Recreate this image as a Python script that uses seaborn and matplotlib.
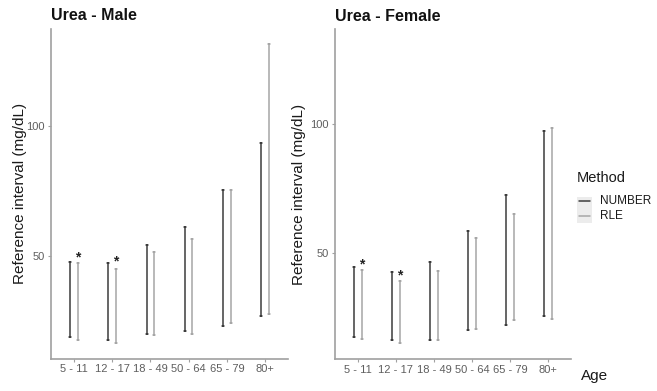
import numpy as np
import pandas as pd
import matplotlib
matplotlib.use("Agg")
import matplotlib.pyplot as plt
from matplotlib.lines import Line2D
from matplotlib.patches import Rectangle
import seaborn as sns

# Age groups and methods
age_groups = ["5 - 11", "12 - 17", "18 - 49", "50 - 64", "65 - 79", "80+"]
methods = ["NUMBER", "RLE"]

# Reference interval limits (mg/dL), male
male_number_low = [18.8, 17.8, 19.8, 21.0, 23.0, 26.8]
male_number_high = [47.5, 47.3, 54.2, 61.2, 75.5, 93.6]
male_rle_low = [17.8, 16.3, 19.6, 19.8, 24.2, 27.6]
male_rle_high = [47.1, 45.0, 51.5, 56.3, 75.2, 131.7]

# Reference interval limits (mg/dL), female
female_number_low = [17.4, 16.4, 16.4, 20.3, 22.2, 25.4]
female_number_high = [44.4, 42.6, 46.5, 58.4, 72.6, 97.5]
female_rle_low = [16.7, 15.1, 16.1, 20.5, 24.1, 24.4]
female_rle_high = [43.5, 39.1, 43.1, 55.9, 65.0, 98.4]

# Significance markers (age group, height)
male_star_groups = ["5 - 11", "12 - 17"]
male_star_y = [49.4, 47.9]
female_star_groups = ["5 - 11", "12 - 17"]
female_star_y = [45.7, 41.3]

y_ticks = [50, 100]


def long_frame(n_low, n_high, r_low, r_high):
    rows = []
    for i, age in enumerate(age_groups):
        for m, lo, hi in (("NUMBER", n_low[i], n_high[i]), ("RLE", r_low[i], r_high[i])):
            rows.append({"Age": age, "Method": m, "value": lo})
            rows.append({"Age": age, "Method": m, "value": hi})
    return pd.DataFrame(rows)


male_df = long_frame(male_number_low, male_number_high, male_rle_low, male_rle_high)
female_df = long_frame(female_number_low, female_number_high, female_rle_low, female_rle_high)

sns.set_theme(style="white")
plt.rcParams["font.family"] = ["Liberation Sans", "DejaVu Sans"]

palette = {"NUMBER": "#3c3c3c", "RLE": "#a6a6a6"}
axis_gray = "#a0a0a0"
tick_gray = "#5e5e5e"

fig = plt.figure(figsize=(6.57, 3.91), dpi=100)
W, H = 657, 391


def px_axes(left, top, right, bottom):
    return fig.add_axes([left / W, 1 - bottom / H, (right - left) / W, (bottom - top) / H])


ax_m = px_axes(51, 28.5, 288, 358.5)
ax_f = px_axes(335, 29, 571, 359)


def draw_panel(ax, df, title, ylim, star_groups, star_y, ylabel_x):
    sns.pointplot(
        data=df, x="Age", y="value", hue="Method", order=age_groups,
        hue_order=methods, palette=palette,
        estimator="mean", errorbar=lambda v: (v.min(), v.max()),
        dodge=0.2, markers="none", linestyles="none", capsize=0.05,
        err_kws={"linewidth": 1.1}, legend=False, ax=ax,
    )
    ax.set_xlim(-0.6, len(age_groups) - 0.4)
    ax.set_ylim(*ylim)
    ax.set_yticks(y_ticks)
    ax.set_yticklabels([str(t) for t in y_ticks])
    for g, yv in zip(star_groups, star_y):
        ax.text(age_groups.index(g) + 0.1, yv, "*", ha="center", va="center",
                fontsize=10, fontweight="bold", color="#222222")
    for side in ("top", "right"):
        ax.spines[side].set_visible(False)
    for side in ("left", "bottom"):
        ax.spines[side].set_color(axis_gray)
        ax.spines[side].set_linewidth(1.2)
    ax.tick_params(axis="both", colors=axis_gray, labelcolor=tick_gray,
                   labelsize=8, length=2.5, width=0.8, pad=2,
                   left=True, bottom=True)
    ax.tick_params(axis="x", pad=1.5)
    ax.set_xlabel("")
    ax.set_ylabel("Reference interval (mg/dL)", fontsize=11, color="#1a1a1a")
    ax.yaxis.set_label_coords(ylabel_x, 0.5)
    ax.set_title(title, loc="left", fontsize=11.5, fontweight="bold", color="#111111", pad=6, x=0.0)
    ax.grid(False)


draw_panel(ax_m, male_df, "Urea - Male", (10.5, 137.5), male_star_groups, male_star_y, -24 / 237)
draw_panel(ax_f, female_df, "Urea - Female", (8.9, 136.9), female_star_groups, female_star_y, -29 / 236)

# Legend, drawn in figure pixel space
fig.text(577 / W, 1 - 178 / H, "Method", fontsize=10.5, color="#1a1a1a", ha="left", va="center")
fig.patches.append(Rectangle((577 / W, 1 - 223 / H), 15 / W, 26 / H,
                             transform=fig.transFigure, facecolor="#ececec",
                             edgecolor="none", figure=fig))
for yy, m in ((201, "NUMBER"), (216, "RLE")):
    fig.lines.append(Line2D([579 / W, 590 / W], [1 - yy / H, 1 - yy / H],
                            transform=fig.transFigure, color=palette[m], linewidth=1.1))
    fig.text(600 / W, 1 - yy / H, m, fontsize=8.5, color="#1a1a1a", ha="left", va="center")

fig.text(595 / W, 1 - 376 / H, "Age", fontsize=11, color="#1a1a1a", ha="center", va="center")

fig.savefig("out.png", dpi=100, facecolor="white")
